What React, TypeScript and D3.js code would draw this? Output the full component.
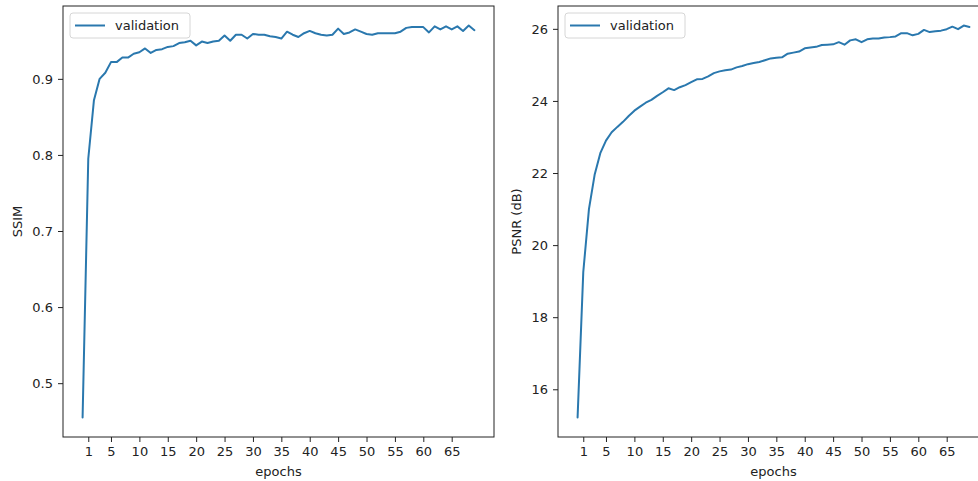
import React, { useEffect, useRef } from 'react';
import * as d3 from 'd3';

// validation curves, one value per epoch
const ssimValues = [
  0.455, 0.795, 0.872, 0.900, 0.908, 0.922, 0.922, 0.928, 0.928, 0.933,
  0.935, 0.940, 0.934, 0.938, 0.939, 0.942, 0.943, 0.947, 0.948, 0.950,
  0.944, 0.949, 0.947, 0.949, 0.950, 0.957, 0.950, 0.958, 0.958, 0.953,
  0.959, 0.958, 0.958, 0.956, 0.955, 0.953, 0.962, 0.958, 0.955, 0.960,
  0.963, 0.960, 0.958, 0.957, 0.958, 0.966, 0.959, 0.961, 0.965, 0.962,
  0.959, 0.958, 0.960, 0.960, 0.960, 0.960, 0.962, 0.967, 0.968, 0.968,
  0.968, 0.961, 0.969, 0.965, 0.969, 0.965, 0.969, 0.963, 0.970, 0.964,
];

const psnrValues = [
  15.22, 19.25, 21.0, 21.95, 22.55, 22.9, 23.13, 23.28, 23.42, 23.58,
  23.73, 23.84, 23.95, 24.03, 24.14, 24.24, 24.35, 24.3, 24.38, 24.44,
  24.52, 24.6, 24.61, 24.68, 24.77, 24.82, 24.85, 24.87, 24.93, 24.97,
  25.02, 25.05, 25.08, 25.13, 25.18, 25.2, 25.21, 25.31, 25.34, 25.37,
  25.46, 25.48, 25.5, 25.55, 25.56, 25.57, 25.63, 25.56, 25.68, 25.71,
  25.63, 25.71, 25.73, 25.73, 25.76, 25.77, 25.79, 25.88, 25.88, 25.82,
  25.86, 25.97, 25.91, 25.93, 25.95, 25.99, 26.06, 25.99, 26.09, 26.05,
];

const epochTicks = [1, 5, 10, 15, 20, 25, 30, 35, 40, 45, 50, 55, 60, 65];
const ssimTicks = [0.5, 0.6, 0.7, 0.8, 0.9];
const psnrTicks = [16, 18, 20, 22, 24, 26];
const legendLabel = 'validation';

const FONT = "'DejaVu Sans', sans-serif";
const LINE_COLOR = '#2a78ae';

const App = () => {
  const ref = useRef<SVGSVGElement>(null);

  useEffect(() => {
    const svg = d3.select(ref.current);
    svg.selectAll('*').remove();

    const drawPanel = (left: number, values: number[], yTicks: number[],
                       yFmt: (v: number) => string, yLabel: string, labelOffset: number) => {
      const top = 6, width = 431, height = 431;
      const g = svg.append('g').attr('transform', `translate(${left},${top})`);

      // matplotlib-like 5% margins
      const n = values.length;
      const xPad = (n - 1) * 0.05;
      const x = d3.scaleLinear().domain([-xPad, n - 1 + xPad]).range([0, width]);
      const [lo, hi] = d3.extent(values) as [number, number];
      const yPad = (hi - lo) * 0.05;
      const y = d3.scaleLinear().domain([lo - yPad, hi + yPad]).range([height, 0]);

      const line = d3.line<number>().x((d, i) => x(i)).y(d => y(d));
      g.append('path')
        .datum(values)
        .attr('d', line)
        .attr('fill', 'none')
        .attr('stroke', LINE_COLOR)
        .attr('stroke-width', 2)
        .attr('stroke-linejoin', 'round')
        .attr('stroke-linecap', 'round');

      const xAxis = g.append('g')
        .attr('transform', `translate(0,${height})`)
        .call(d3.axisBottom(x).tickValues(epochTicks).tickSize(5).tickPadding(5).tickSizeOuter(0));
      const yAxis = g.append('g')
        .call(d3.axisLeft(y).tickValues(yTicks).tickFormat(yFmt as any).tickSize(5).tickPadding(5).tickSizeOuter(0));

      [xAxis, yAxis].forEach(a => {
        a.attr('font-size', 13).attr('font-family', FONT);
        a.select('.domain').remove();
        a.selectAll('line').attr('stroke', '#222');
        a.selectAll('text').attr('fill', '#222');
      });

      // axes frame
      g.append('rect')
        .attr('width', width)
        .attr('height', height)
        .attr('fill', 'none')
        .attr('stroke', '#222')
        .attr('stroke-width', 1);

      g.append('text')
        .attr('x', width / 2)
        .attr('y', height + 39)
        .attr('text-anchor', 'middle')
        .attr('font-size', 13)
        .attr('font-family', FONT)
        .attr('fill', '#222')
        .text('epochs');

      g.append('text')
        .attr('transform', `translate(${labelOffset},${height / 2}) rotate(-90)`)
        .attr('text-anchor', 'middle')
        .attr('font-size', 13)
        .attr('font-family', FONT)
        .attr('fill', '#222')
        .text(yLabel);

      // legend
      const lg = g.append('g').attr('transform', 'translate(7,7)');
      lg.append('rect')
        .attr('width', 120)
        .attr('height', 25)
        .attr('rx', 3)
        .attr('fill', '#fff')
        .attr('fill-opacity', 0.8)
        .attr('stroke', '#d6d6d6');
      lg.append('line')
        .attr('x1', 5).attr('x2', 35)
        .attr('y1', 12.5).attr('y2', 12.5)
        .attr('stroke', LINE_COLOR)
        .attr('stroke-width', 2);
      lg.append('text')
        .attr('x', 45)
        .attr('y', 12.5)
        .attr('dy', '0.35em')
        .attr('font-size', 13)
        .attr('font-family', FONT)
        .attr('fill', '#222')
        .text(legendLabel);
    };

    drawPanel(63, ssimValues, ssimTicks, d3.format('.1f'), 'SSIM', -41);
    drawPanel(558, psnrValues, psnrTicks, d3.format('d'), 'PSNR (dB)', -37);
  }, []);

  return (
    <svg ref={ref} width={978} height={481}
         style={{ position: 'absolute', left: 0, top: 0, background: '#fff' }} />
  );
};

export default App;
